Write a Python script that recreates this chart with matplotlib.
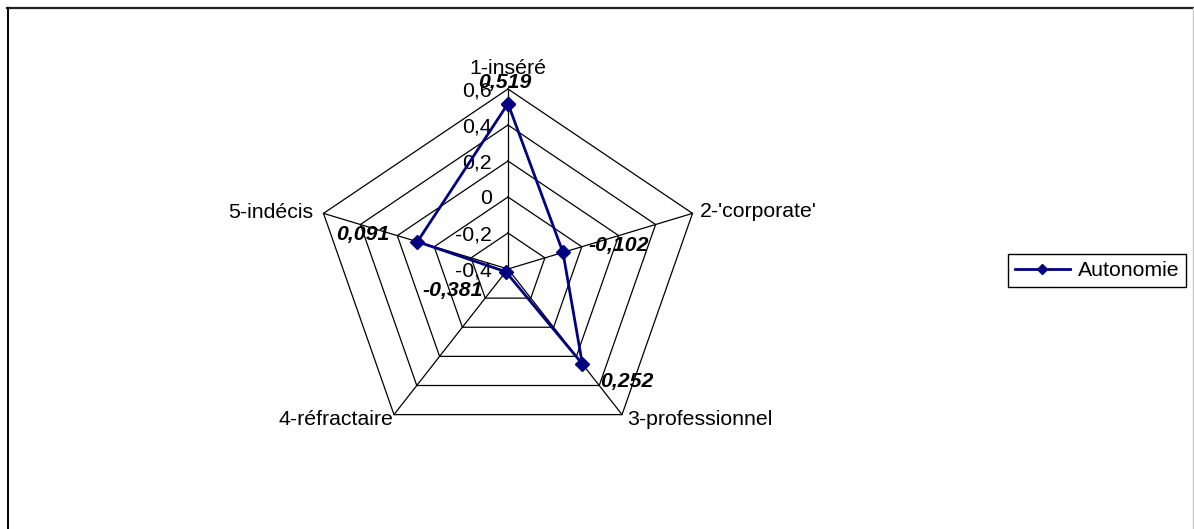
import matplotlib.pyplot as plt
import numpy as np

plt.rcParams['font.family'] = ['Liberation Sans', 'DejaVu Sans']

# ── data ───────────────────────────────────────────────────
categories   = ['1-inséré', "2-'corporate'", '3-professionnel', '4-réfractaire', '5-indécis']
values       = [0.519, -0.102, 0.252, -0.381, 0.091]
value_labels = ['0,519', '-0,102', '0,252', '-0,381', '0,091']
ring_levels  = [-0.4, -0.2, 0, 0.2, 0.4, 0.6]
ring_labels  = ['-0,4', '-0,2', '0', '0,2', '0,4', '0,6']
series_name  = 'Autonomie'
# ───────────────────────────────────────────────────────────

R_MIN, R_MAX = -0.4, 0.6
W, H = 1194, 529
CX, CY = 508, 269      # web centre (pixels)
RX, RY = 194, 180      # web radius (pixels), Excel stretches it a bit
FS = 15.3
NAVY = '#000080'

fig = plt.figure(figsize=(W / 100, H / 100), dpi=100)
ax = fig.add_axes([0, 0, 1, 1])
ax.set_xlim(-CX / RX, (W - CX) / RX)
ax.set_ylim(-(H - CY) / RY, CY / RY)
ax.axis('off')

n = len(categories)
ang = np.pi / 2 - 2 * np.pi * np.arange(n) / n


def to_xy(v):
    r = (np.asarray(v, dtype=float) - R_MIN) / (R_MAX - R_MIN)
    return r * np.cos(ang), r * np.sin(ang)


# rings
for lvl in ring_levels:
    if lvl == R_MIN:
        continue
    x, y = to_xy([lvl] * n)
    ax.plot(np.append(x, x[0]), np.append(y, y[0]), color='black', lw=0.9, zorder=1)

# spokes
ox, oy = to_xy([R_MAX] * n)
for xi, yi in zip(ox, oy):
    ax.plot([0, xi], [0, yi], color='black', lw=0.9, zorder=1)

# radial tick labels along the first spoke
for lvl, lbl in zip(ring_levels, ring_labels):
    r = (lvl - R_MIN) / (R_MAX - R_MIN)
    ax.annotate(lbl, (0, r), xytext=(-16, 0), textcoords='offset pixels',
                ha='right', va='center_baseline', fontsize=FS, zorder=2)

# category labels
cat_off = [(0, 15, 'center'), (7, -4, 'left'), (5, -10, 'left'),
           (-1, -10, 'right'), (-10, -5, 'right')]
for xi, yi, lbl, (dx, dy, ha) in zip(ox, oy, categories, cat_off):
    ax.annotate(lbl, (xi, yi), xytext=(dx, dy), textcoords='offset pixels',
                ha=ha, va='baseline', fontsize=FS)

# series
px, py = to_xy(values)
line, = ax.plot(np.append(px, px[0]), np.append(py, py[0]), color=NAVY, lw=2.0,
                marker='D', ms=7, mfc=NAVY, mec=NAVY, zorder=4, label=series_name)

# data labels
val_off = [(-3, 21), (56, 7), (44, -18), (-53, -19), (-55, 7)]
for xi, yi, lbl, (dx, dy) in zip(px, py, value_labels, val_off):
    ax.annotate(lbl, (xi, yi), xytext=(dx, dy), textcoords='offset pixels',
                ha='center', va='center', fontsize=FS, fontweight='bold',
                fontstyle='italic', zorder=5)

leg = ax.legend(handles=[line], loc='center left',
                bbox_to_anchor=(1008 / W, 1 - 270.5 / H), bbox_transform=fig.transFigure,
                fontsize=FS, frameon=True, fancybox=False, framealpha=1,
                edgecolor='black', borderaxespad=0, borderpad=0.32,
                handlelength=2.6, handletextpad=0.35, markerscale=0.75)
leg.get_frame().set_linewidth(1.0)

# chart border (top and left dark, right edge faint, bottom cut off)
fig.add_artist(plt.Line2D([7 / W, 1 - 1 / W], [1 - 7.5 / H, 1 - 7.5 / H],
                          transform=fig.transFigure, color='#202020', lw=1.6))
fig.add_artist(plt.Line2D([7.5 / W, 7.5 / W], [0, 1 - 7.5 / H],
                          transform=fig.transFigure, color='black', lw=1.4))
fig.add_artist(plt.Line2D([1 - 1.5 / W, 1 - 1.5 / W], [0, 1 - 7.5 / H],
                          transform=fig.transFigure, color='#c8c8c8', lw=1.0))

plt.savefig('out.png', dpi=100)
